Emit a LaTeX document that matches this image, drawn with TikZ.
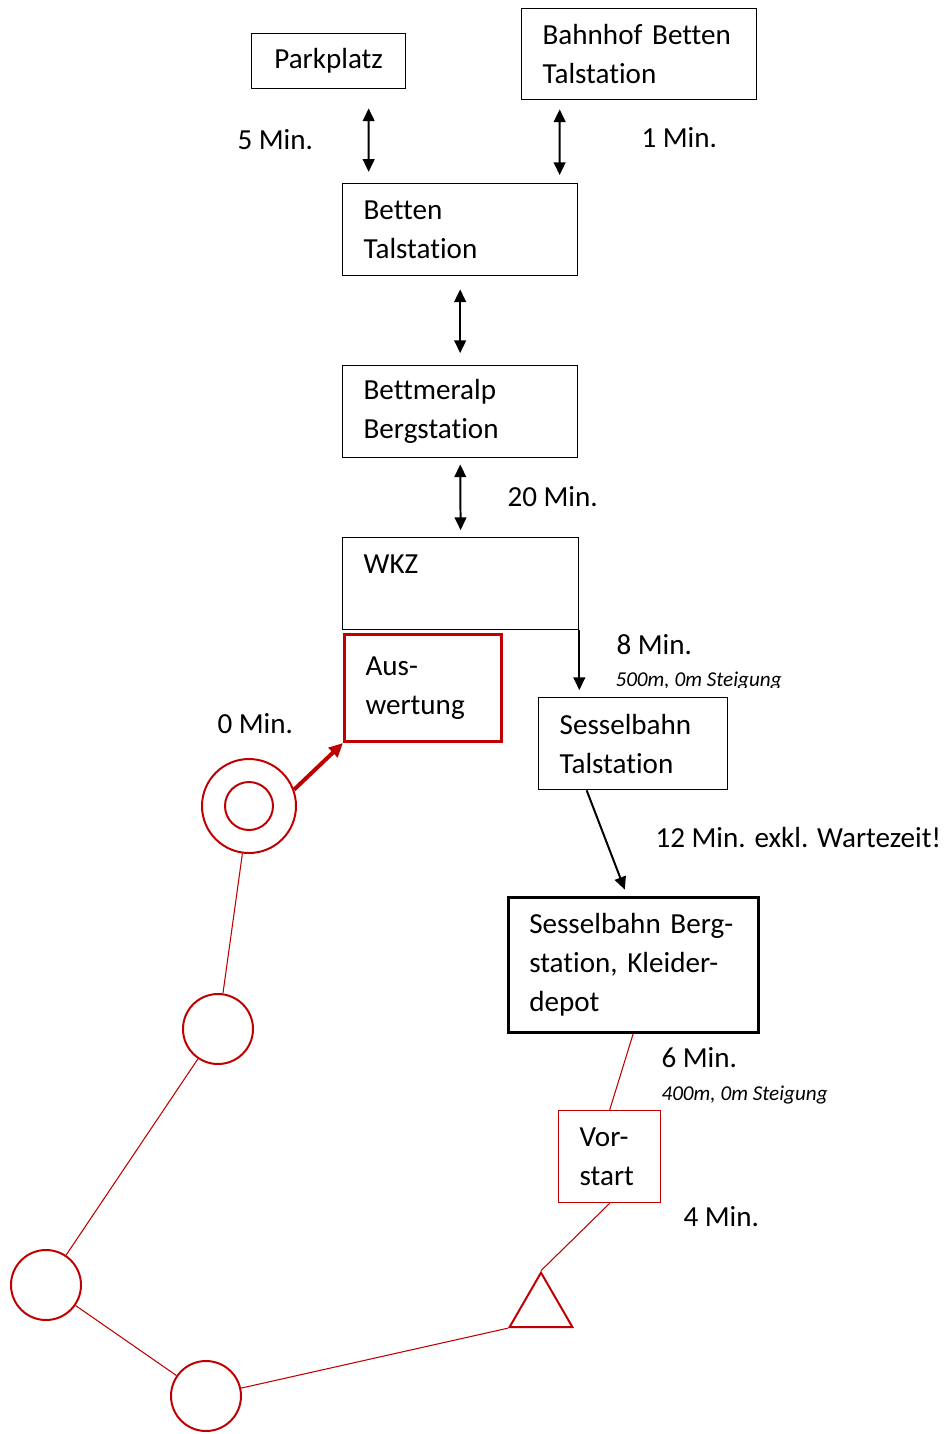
\documentclass[tikz,border=0pt]{standalone}
\usepackage{fontspec}
\setmainfont{Carlito}[Ligatures=NoCommon]
\usetikzlibrary{arrows.meta,shapes.geometric}
\definecolor{wkred}{RGB}{192,0,0}
\begin{document}
\begin{tikzpicture}[x=0.378pt, y=-0.378pt,
  >={Triangle[length=4.8pt,width=4.4pt]},
  box/.style={draw, line width=0.5pt, anchor=north west, inner xsep=7.94pt, inner ysep=0pt,
    align=left, font=\fontsize{11}{14.74}\selectfont},
  lbl/.style={anchor=west, inner sep=0pt, font=\fontsize{11}{14.74}\selectfont},
  note/.style={anchor=base west, inner sep=0pt, font=\fontsize{8}{9.6}\selectfont\itshape},
  dbl/.style={<->, line width=0.75pt},
  post/.style={draw=wkred, line width=0.75pt, circle, inner sep=0pt, minimum size=26.46pt},
  route/.style={draw=wkred, line width=0.4pt}]
\useasboundingbox (0,0) rectangle (947,1434);

\node[box, align=center, minimum width=58.21pt, minimum height=20.79pt] (park) at (251,33) {Parkplatz};
\node[box, text width=72.95pt, minimum height=34.40pt] (bahnhof) at (521,8) {Bahnhof Betten\\Talstation};
\node[box, text width=72.95pt, minimum height=34.78pt] (betten) at (342,183) {Betten\\Talstation};
\node[box, text width=72.95pt, minimum height=34.78pt] (bettmer) at (342,365) {Bettmeralp\\Bergstation};
\node[box, text width=73.33pt, minimum height=34.78pt] (wkz) at (342,537) {WKZ\\~};
\node[box, draw=wkred, line width=1.13pt, text width=43.47pt, minimum height=40.45pt] (ausw) at (343,633) {Aus-\\wertung};
\node[box, text width=55.57pt, minimum height=34.78pt] (sestal) at (538,697) {Sesselbahn\\Talstation};
\node[box, line width=0.95pt, text width=78.62pt, minimum height=51.03pt] (sesberg) at (507,896) {Sesselbahn Berg-\\station, Kleider-\\depot};
\node[box, draw=wkred, text width=22.68pt, minimum height=34.78pt] (vorstart) at (558,1110) {Vor-\\start};

\node[post, minimum size=35.53pt] (start) at (249,806) {};
\node[post, minimum size=18.14pt] (startin) at (249,806) {};
\node[post] (p2) at (218,1029) {};
\node[post] (p3) at (46,1285) {};
\node[post] (p4) at (206,1396) {};
\node[draw=wkred, line width=0.75pt, regular polygon, regular polygon sides=3,
  minimum size=27.5pt, inner sep=0pt] (ziel) at (541,1309) {};

\node[lbl] (t5) at (237,140) {5 Min.};
\node[lbl] (t1) at (641,138) {1 Min.};
\node[lbl] (t20) at (507,497) {20 Min.};
\node[lbl] (t8) at (616,645) {8 Min.};
\begin{scope}
\clip (600,650) rectangle (800,687.5);
\node[note] (n8) at (615,686) {500m, 0m Steigung};
\end{scope}
\node[lbl] (t0) at (217,724) {0 Min.};
\node[lbl] (t12) at (655,837) {12 Min. exkl. Wartezeit!};
\node[lbl] (t6) at (661,1058) {6 Min.};
\node[note] (n6) at (661,1100) {400m, 0m Steigung};
\node[lbl] (t4) at (683,1217) {4 Min.};

\draw[dbl, shorten <=7.2pt, shorten >=4.2pt] ([xshift=15.12pt]park.south) -- ([xshift=-34.59pt]betten.north);
\draw[dbl, shorten <=3.4pt, shorten >=3.0pt] ([xshift=-30.05pt]bahnhof.south) -- ([xshift=37.61pt]betten.north);
\draw[dbl, shorten <=4.9pt, shorten >=4.5pt] (betten.south) -- (bettmer.north);
\draw[dbl, shorten <=2.3pt, shorten >=2.6pt] (bettmer.south) -- (wkz.north);
\draw[->, line width=0.75pt, shorten >=2.6pt] (wkz.south east) -- (wkz.south east |- sestal.north);
\draw[->, line width=0.75pt, shorten >=2.6pt] ([xshift=-17.58pt]sestal.south) -- ([xshift=-2.27pt]sesberg.north);

\draw[route] (sesberg.south) -- (vorstart.north);
\draw[route] (vorstart.south) -- (ziel.corner 1);
\draw[route] (ziel.corner 2) -- (p4);
\draw[route] (p4) -- (p3);
\draw[route] (p3) -- (p2);
\draw[route] (p2) -- (start);
\draw[wkred, line width=1.5pt, -{Triangle[length=5.3pt,width=4.8pt]}] (start.20) -- (ausw.south west);
\end{tikzpicture}
\end{document}
